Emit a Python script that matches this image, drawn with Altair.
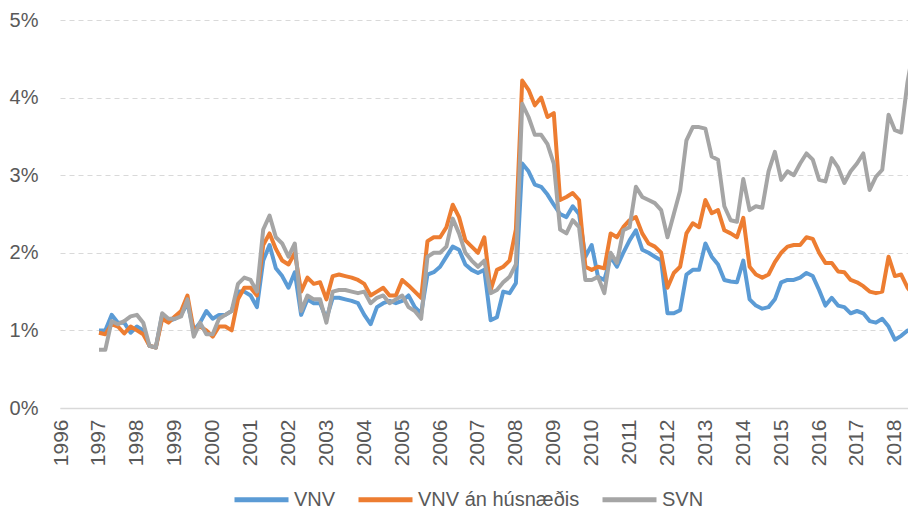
import altair as alt
import pandas as pd

# ---- data (percent), bi-monthly readings: Jan, Mar, May, Jul, Sep, Nov ----
years = list(range(1997, 2019))
months = [1, 3, 5, 7, 9, 11]
months_last = [1, 3, 5, 7]

series_names = ["VNV", "VNV án húsnæðis", "SVN"]
series_colors = ["#5B9BD5", "#ED7D31", "#A5A5A5"]

vnv = [
    1.0, 1.0, 1.2, 1.1, 1.1, 0.97,      # 1997
    1.05, 1.0, 0.8, 0.78, 1.2, 1.12,    # 1998
    1.15, 1.2, 1.35, 1.0, 1.1, 1.25,    # 1999
    1.15, 1.2, 1.2, 1.25, 1.5, 1.5,     # 2000
    1.45, 1.3, 1.9, 2.1, 1.8, 1.7,      # 2001
    1.55, 1.75, 1.2, 1.4, 1.35, 1.35,   # 2002
    1.15, 1.42, 1.42, 1.4, 1.38, 1.35,  # 2003
    1.2, 1.08, 1.3, 1.35, 1.38, 1.35,   # 2004
    1.38, 1.45, 1.3, 1.22, 1.72, 1.75,  # 2005
    1.82, 1.95, 2.08, 2.04, 1.85, 1.78, # 2006
    1.74, 1.78, 1.13, 1.17, 1.5, 1.48,  # 2007
    1.61, 3.15, 3.05, 2.88, 2.85, 2.75, # 2008
    2.62, 2.5, 2.46, 2.6, 2.5, 1.95,    # 2009
    2.1, 1.69, 1.65, 1.95, 1.82, 2.0,   # 2010
    2.16, 2.29, 2.04, 2.0, 1.95, 1.9,   # 2011
    1.22, 1.22, 1.26, 1.72, 1.78, 1.78, # 2012
    2.12, 1.95, 1.85, 1.65, 1.63, 1.62, # 2013
    1.9, 1.4, 1.32, 1.28, 1.3, 1.4,     # 2014
    1.62, 1.65, 1.65, 1.68, 1.74, 1.7,  # 2015
    1.52, 1.32, 1.42, 1.32, 1.3, 1.22,  # 2016
    1.25, 1.22, 1.12, 1.1, 1.15, 1.05,  # 2017
    0.88, 0.93, 1.0, 0.98,              # 2018
]

vnv_an = [
    0.97, 0.95, 1.08, 1.05, 0.96, 1.05, # 1997
    1.0, 0.95, 0.8, 0.78, 1.15, 1.1,    # 1998
    1.18, 1.25, 1.45, 1.0, 1.05, 1.0,   # 1999
    0.92, 1.05, 1.05, 1.0, 1.4, 1.55,   # 2000
    1.55, 1.45, 2.1, 2.25, 2.05, 1.9,   # 2001
    1.85, 2.0, 1.5, 1.68, 1.6, 1.62,    # 2002
    1.4, 1.7, 1.72, 1.7, 1.68, 1.65,    # 2003
    1.6, 1.45, 1.5, 1.55, 1.45, 1.45,   # 2004
    1.65, 1.58, 1.5, 1.42, 2.15, 2.2,   # 2005
    2.2, 2.33, 2.62, 2.46, 2.16, 2.08,  # 2006
    2.0, 2.2, 1.52, 1.78, 1.82, 1.9,    # 2007
    2.3, 4.22, 4.1, 3.9, 4.0, 3.75,     # 2008
    3.8, 2.68, 2.72, 2.77, 2.68, 1.82,  # 2009
    1.78, 1.82, 1.8, 2.25, 2.2, 2.33,   # 2010
    2.42, 2.46, 2.25, 2.12, 2.08, 2.0,  # 2011
    1.55, 1.74, 1.82, 2.25, 2.38, 2.33, # 2012
    2.68, 2.51, 2.55, 2.29, 2.25, 2.2,  # 2013
    2.45, 1.82, 1.72, 1.68, 1.72, 1.88, # 2014
    2.0, 2.08, 2.1, 2.1, 2.2, 2.18,     # 2015
    2.0, 1.87, 1.87, 1.76, 1.75, 1.65,  # 2016
    1.62, 1.57, 1.5, 1.48, 1.5, 1.95,   # 2017
    1.7, 1.72, 1.55, 1.45,              # 2018
]

svn = [
    0.75, 0.75, 1.12, 1.08, 1.12, 1.18, # 1997
    1.2, 1.1, 0.8, 0.78, 1.22, 1.15,    # 1998
    1.15, 1.18, 1.4, 0.92, 1.1, 0.95,   # 1999
    0.95, 1.15, 1.2, 1.25, 1.6, 1.68,   # 2000
    1.65, 1.5, 2.3, 2.48, 2.2, 2.12,    # 2001
    1.95, 2.12, 1.25, 1.45, 1.4, 1.4,   # 2002
    1.1, 1.5, 1.52, 1.52, 1.5, 1.48,    # 2003
    1.5, 1.35, 1.42, 1.45, 1.35, 1.4,   # 2004
    1.45, 1.3, 1.25, 1.15, 1.95, 2.0,   # 2005
    2.0, 2.08, 2.44, 2.25, 2.0, 1.9,    # 2006
    1.82, 1.9, 1.48, 1.52, 1.62, 1.69,  # 2007
    1.85, 3.92, 3.75, 3.52, 3.52, 3.4,  # 2008
    3.15, 2.3, 2.25, 2.42, 2.33, 1.65,  # 2009
    1.65, 1.69, 1.48, 2.0, 1.87, 2.29,  # 2010
    2.33, 2.85, 2.72, 2.68, 2.64, 2.55, # 2011
    2.2, 2.5, 2.8, 3.45, 3.62, 3.62,    # 2012
    3.6, 3.24, 3.2, 2.6, 2.42, 2.4,     # 2013
    2.95, 2.55, 2.6, 2.58, 3.05, 3.3,   # 2014
    2.94, 3.05, 3.0, 3.15, 3.28, 3.2,   # 2015
    2.94, 2.92, 3.22, 3.1, 2.9, 3.05,   # 2016
    3.15, 3.28, 2.81, 2.98, 3.07, 3.78, # 2017
    3.58, 3.55, 4.2, 4.65,              # 2018
]

year_ticks = list(range(1996, 2019))
pct_ticks = [0, 1, 2, 3, 4, 5]

# ---- build table ----
t = []
for y in years:
    for m in (months if y < 2018 else months_last):
        t.append(y + (m - 1) / 12)

frames = []
for name, vals in zip(series_names, [vnv, vnv_an, svn]):
    frames.append(pd.DataFrame({"t": t, "v": vals, "series": name}))

FONT = "Liberation Sans"
GREY_TXT = "#595959"

x_enc = alt.X(
    "t:Q",
    scale=alt.Scale(domain=[1995.971, 2018.346], nice=False, zero=False),
    axis=alt.Axis(
        values=year_ticks, format="d", labelAngle=-90, title=None,
        grid=False, ticks=False, tickSize=0, labelPadding=11,
        labelFontSize=21, labelColor=GREY_TXT, labelFont=FONT,
        labelFlush=False, labelOverlap=False,
        domain=True, domainColor="#D9D9D9", domainWidth=1.5,
    ),
)
y_enc = alt.Y(
    "v:Q",
    scale=alt.Scale(domain=[0, 5], nice=False),
    axis=alt.Axis(
        values=pct_ticks, labelExpr="datum.value + '%'", title=None,
        grid=True, gridColor="#D9D9D9", gridDash=[5, 4], gridWidth=1,
        ticks=False, tickSize=0, domain=False, labelPadding=22,
        labelFontSize=20, labelColor=GREY_TXT, labelFont=FONT,
        labelFlush=False,
    ),
)
color_enc = alt.Color(
    "series:N",
    scale=alt.Scale(domain=series_names, range=series_colors),
    legend=alt.Legend(
        title=None, orient="none", direction="horizontal",
        legendX=172, legendY=450, padding=0,
        symbolType="stroke", symbolSize=2916, symbolStrokeWidth=5,
        labelFontSize=20, labelColor=GREY_TXT, labelFont=FONT,
        labelOffset=3, labelLimit=400, columnPadding=12,
    ),
)

layers = [
    alt.Chart(df).mark_line(strokeWidth=4, clip=True, strokeJoin="round")
    .encode(x=x_enc, y=y_enc, color=color_enc)
    for df in frames
]

chart = (
    alt.layer(*layers)
    .properties(
        width=848, height=388,
        autosize=alt.AutoSizeParams(type="none"),
        padding={"left": 52, "top": 12, "right": 0, "bottom": 104},
        background="white",
    )
    .configure_view(stroke=None)
)

chart.save("out.html", embed_options={"renderer": "svg", "actions": False})
